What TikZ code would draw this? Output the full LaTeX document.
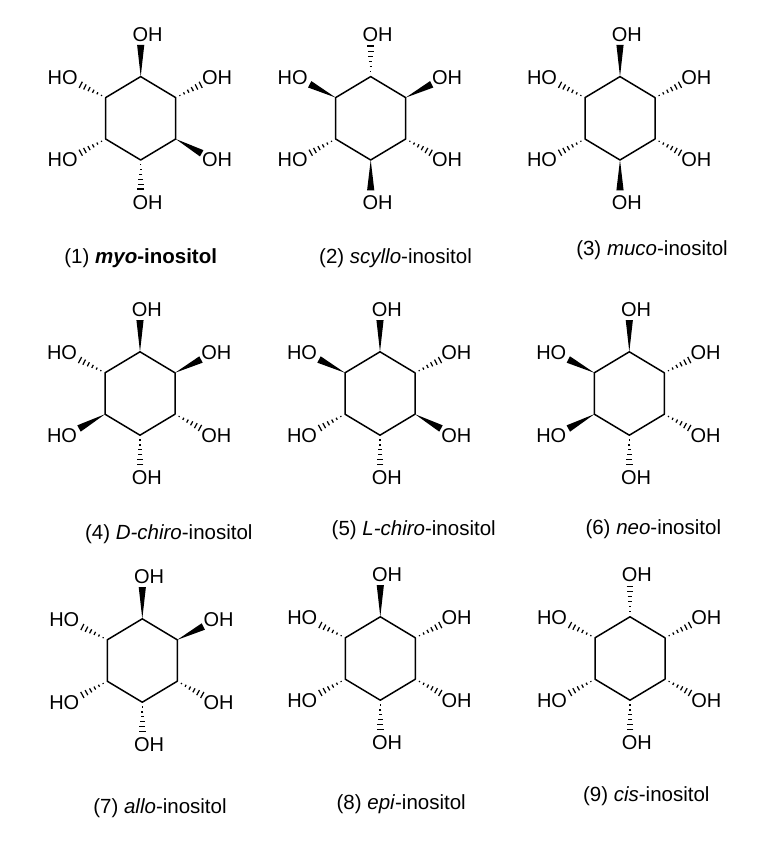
\documentclass[tikz,border=0pt]{standalone}
\usepackage{fontspec}
\setmainfont{Liberation Sans}
\usetikzlibrary{calc}
\tikzset{
    ringbond/.style={draw=black,line width=1.5pt,line join=round},
    oh/.style={inner sep=0pt,font=\fontsize{20}{20}\selectfont},
    molname/.style={inner sep=0pt,yshift=-2pt,font=\fontsize{20.5}{20.5}\selectfont},
    wedgebond/.style={fill=black,to path={
        -- ($(\tikztotarget)!3.6pt!90:(\tikztostart)$)
        -- ($(\tikztotarget)!3.6pt!-90:(\tikztostart)$) -- cycle}},
    hashbond/.style={draw=black,line width=1.25pt,to path={
        foreach \t in {.16,.32,.48,.64,.80,.96} {
            ($(\tikztostart)!\t!(\tikztotarget)!{\t*3.6pt}!90:(\tikztotarget)$)
            -- ($(\tikztostart)!\t!(\tikztotarget)!{\t*3.6pt}!-90:(\tikztotarget)$)
        }}},
}
\newcommand{\inositol}[9]{
    \begin{scope}[shift={(#2,#3)}]
        \coordinate (#1a) at (0,-41.7);
        \coordinate (#1b) at (35,-20.7);
        \coordinate (#1c) at (35,20.7);
        \coordinate (#1d) at (0,41.7);
        \coordinate (#1e) at (-35,20.7);
        \coordinate (#1f) at (-35,-20.7);
        \coordinate (#1ta) at (0,-73.5);
        \coordinate (#1tb) at (61,-34);
        \coordinate (#1tc) at (61,35);
        \coordinate (#1td) at (0,72);
        \coordinate (#1te) at (-61,35);
        \coordinate (#1tf) at (-61,-34);
        \node[oh] (#1oa) at (6.8,-83.5) {OH};
        \node[oh] (#1ob) at (76.3,-40.8) {OH};
        \node[oh] (#1oc) at (76.3,41.7) {OH};
        \node[oh] (#1od) at (6.8,84) {OH};
        \node[oh] (#1oe) at (-78,41.7) {HO};
        \node[oh] (#1of) at (-78,-40.8) {HO};
        \draw[ringbond] (#1a) -- (#1b) -- (#1c) -- (#1d) -- (#1e) -- (#1f) -- cycle;
        \path[#4] (#1a) to (#1ta);
        \path[#5] (#1b) to (#1tb);
        \path[#6] (#1c) to (#1tc);
        \path[#7] (#1d) to (#1td);
        \path[#8] (#1e) to (#1te);
        \path[#9] (#1f) to (#1tf);
    \end{scope}
}
\begin{document}
\begin{tikzpicture}[x=1pt,y=-1pt]
    \useasboundingbox (0,0) rectangle (768,856);
    \inositol{myo}{140.7}{118.3}{wedgebond}{hashbond}{wedgebond}{hashbond}{hashbond}{hashbond}
    \inositol{scy}{370.7}{118.3}{hashbond}{wedgebond}{hashbond}{wedgebond}{hashbond}{wedgebond}
    \inositol{muc}{620}{118.3}{wedgebond}{hashbond}{hashbond}{wedgebond}{hashbond}{hashbond}
    \inositol{dch}{140}{393.5}{wedgebond}{wedgebond}{hashbond}{hashbond}{wedgebond}{hashbond}
    \inositol{lch}{380}{393.5}{wedgebond}{hashbond}{wedgebond}{hashbond}{hashbond}{wedgebond}
    \inositol{neo}{629.3}{393.5}{wedgebond}{hashbond}{hashbond}{hashbond}{wedgebond}{wedgebond}
    \inositol{all}{142.3}{660.5}{wedgebond}{wedgebond}{hashbond}{hashbond}{hashbond}{hashbond}
    \inositol{epi}{380.3}{658.5}{wedgebond}{hashbond}{hashbond}{hashbond}{hashbond}{hashbond}
    \inositol{cis}{630}{658.5}{hashbond}{hashbond}{hashbond}{hashbond}{hashbond}{hashbond}
    \node[molname] (n1) at (140.7,255.7) {(1) \textbf{\textit{myo}-inositol}};
    \node[molname] (n2) at (395.5,256) {(2) \textit{scyllo}-inositol};
    \node[molname] (n3) at (652,248) {(3) \textit{muco}-inositol};
    \node[molname] (n4) at (168.8,532.3) {(4) \textit{D-chiro}-inositol};
    \node[molname] (n5) at (413.7,527.7) {(5) \textit{L-chiro}-inositol};
    \node[molname] (n6) at (653.3,527.3) {(6) \textit{neo}-inositol};
    \node[molname] (n7) at (160,805.7) {(7) \textit{allo}-inositol};
    \node[molname] (n8) at (401.2,802.3) {(8) \textit{epi}-inositol};
    \node[molname] (n9) at (646.3,794) {(9) \textit{cis}-inositol};
\end{tikzpicture}
\end{document}
